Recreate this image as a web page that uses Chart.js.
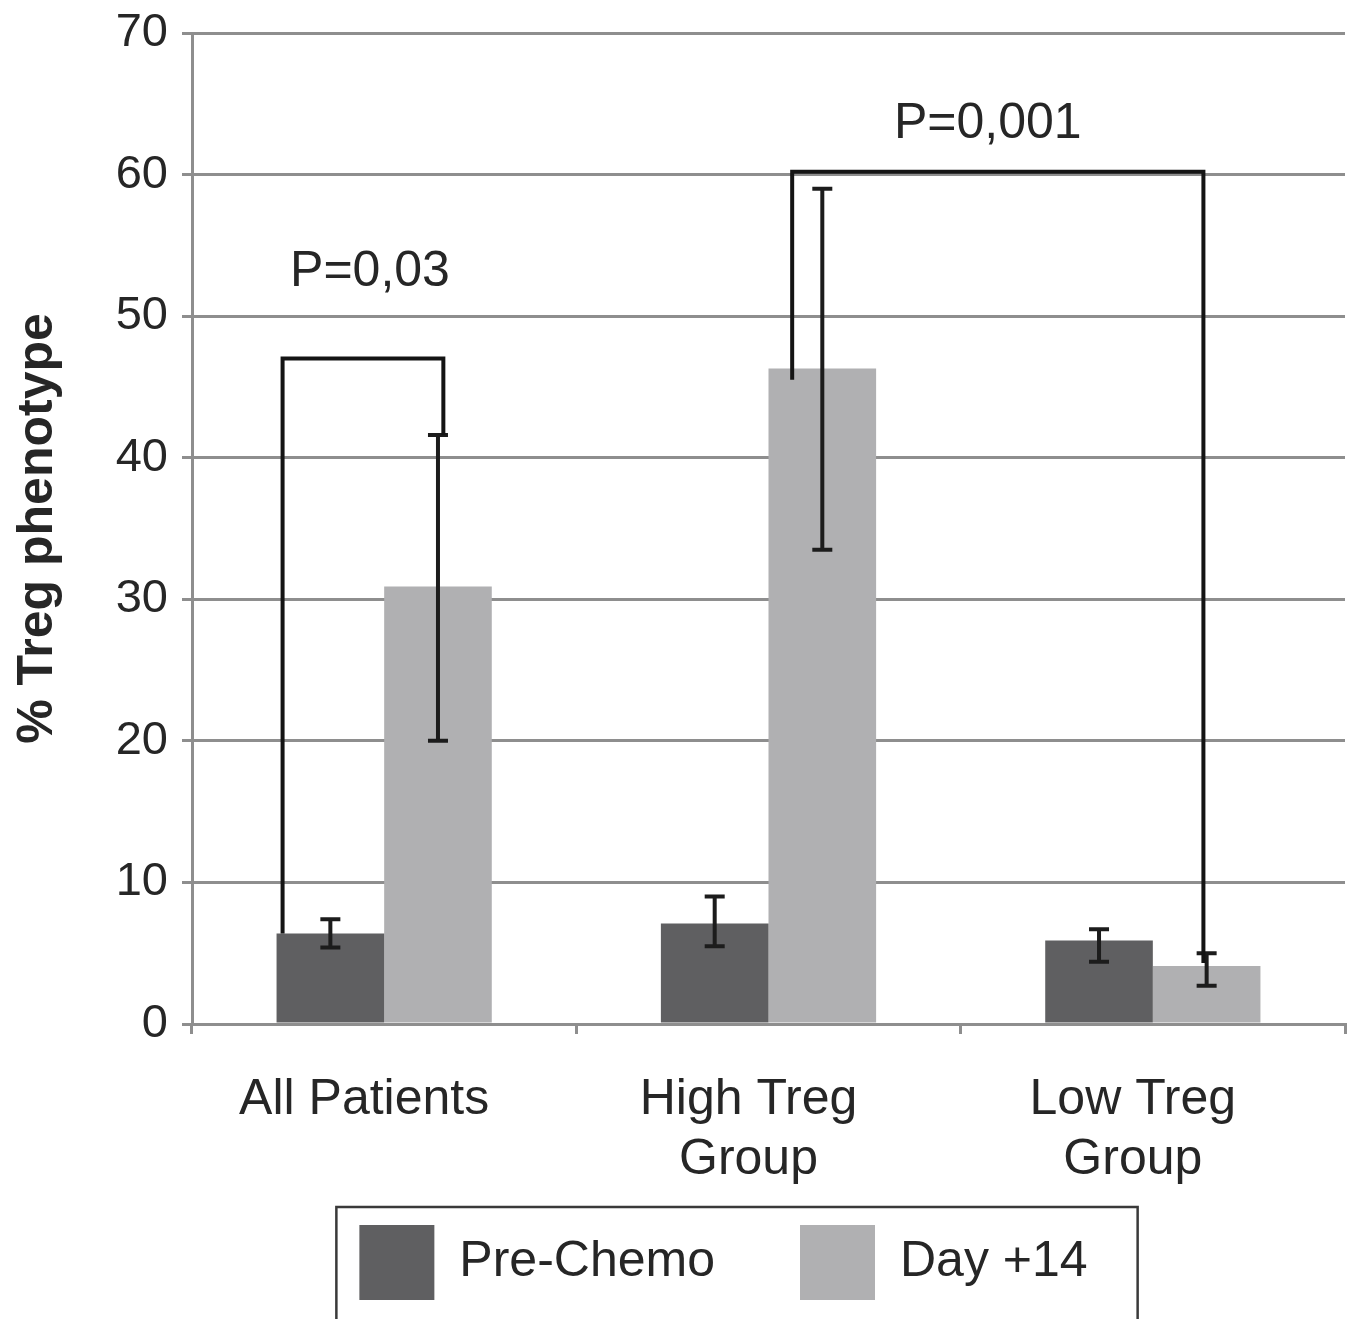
<!DOCTYPE html>
<html><head><meta charset="utf-8">
<script src="https://cdn.jsdelivr.net/npm/chart.js@4/dist/chart.umd.min.js"></script>
<style>html,body{margin:0;padding:0;background:#fff}#wrap{width:1355px;height:1319px;position:relative}</style>
</head><body><div id="wrap"><canvas id="c" width="1355" height="1319"></canvas></div>
<script>
// ---- data ----
const categories = [['All Patients'], ['High Treg', 'Group'], ['Low Treg', 'Group']];
const seriesNames = ['Pre-Chemo', 'Day +14'];
const preChemo = [6.4, 7.1, 5.9];
const day14 = [30.9, 46.3, 4.1];
const preChemoErrLow = [5.4, 5.5, 4.4];
const preChemoErrHigh = [7.4, 9.0, 6.7];
const day14ErrLow = [20.0, 33.5, 2.7];
const day14ErrHigh = [41.6, 59.0, 5.0];
const yTicks = [0, 10, 20, 30, 40, 50, 60, 70];
const pLabels = ['P=0,03', 'P=0,001'];
const bracketTop = [47.0, 60.2];
const bracketFrom = [[0, 0], [1, 1]];   // [category, series]
const bracketTo = [[0, 1], [2, 1]];
const bracketFromEnd = [6.4, 45.5];
const bracketToEnd = [41.6, 4.3];

// ---- styles / positions ----
const FONT = '"Liberation Sans", Arial, Helvetica, sans-serif';
const GRID = '#8e8e8e';
const TXT = '#262626';
const bracketStyle = {
  legFrac: [[0.056, 0.55], [0.22, 0.47]],
  labelDx: [7, -10],
  labelAbove: [5.1, 2.4]
};

const errorBars = {
  id: 'errorBars',
  afterDatasetsDraw(chart) {
    const ctx = chart.ctx, y = chart.scales.y;
    const lows = [preChemoErrLow, day14ErrLow], highs = [preChemoErrHigh, day14ErrHigh];
    ctx.save();
    ctx.strokeStyle = '#1c1c1c';
    ctx.lineWidth = 4;
    ctx.lineCap = 'butt';
    for (let d = 0; d < 2; d++) {
      const meta = chart.getDatasetMeta(d);
      meta.data.forEach((bar, j) => {
        const x = bar.x, yl = y.getPixelForValue(lows[d][j]), yh = y.getPixelForValue(highs[d][j]);
        ctx.beginPath();
        ctx.moveTo(x, yl); ctx.lineTo(x, yh);
        ctx.moveTo(x - 10, yl); ctx.lineTo(x + 10, yl);
        ctx.moveTo(x - 10, yh); ctx.lineTo(x + 10, yh);
        ctx.stroke();
      });
    }
    ctx.strokeStyle = '#141414';
    ctx.lineWidth = 4;
    ctx.lineJoin = 'miter';
    for (let b = 0; b < pLabels.length; b++) {
      const fb = chart.getDatasetMeta(bracketFrom[b][1]).data[bracketFrom[b][0]];
      const tb = chart.getDatasetMeta(bracketTo[b][1]).data[bracketTo[b][0]];
      const x1 = fb.x - fb.width / 2 + fb.width * bracketStyle.legFrac[b][0];
      const x2 = tb.x - tb.width / 2 + tb.width * bracketStyle.legFrac[b][1];
      const yt = y.getPixelForValue(bracketTop[b]);
      ctx.beginPath();
      ctx.moveTo(x1, y.getPixelForValue(bracketFromEnd[b]));
      ctx.lineTo(x1, yt);
      ctx.lineTo(x2, yt);
      ctx.lineTo(x2, y.getPixelForValue(bracketToEnd[b]));
      ctx.stroke();
      ctx.fillStyle = TXT;
      ctx.font = '50px ' + FONT;
      ctx.textAlign = 'center';
      ctx.textBaseline = 'alphabetic';
      ctx.fillText(pLabels[b], (x1 + x2) / 2 + bracketStyle.labelDx[b], y.getPixelForValue(bracketTop[b] + bracketStyle.labelAbove[b]));
    }
    ctx.restore();
  }
};

const legendFrame = {
  id: 'legendFrame',
  afterLayout(chart) {
    const lg = chart.legend;
    lg.left += 51; lg.right += 51;
  },
  afterDraw(chart) {
    const lg = chart.legend;
    if (!lg || !lg.lineWidths) return;
    const pad = lg.options.labels.padding;
    const realW = lg.lineWidths[0] - pad;
    const left = (lg.left + lg.right - realW) / 2;
    const right = left + realW;
    const boxTop = lg.top + pad;
    const ctx = chart.ctx;
    ctx.save();
    ctx.strokeStyle = '#3a3a3a';
    ctx.lineWidth = 2.5;
    ctx.strokeRect(left - 23, boxTop - 18, (right - left) + 23 + 50, 200);
    ctx.restore();
  }
};

new Chart(document.getElementById('c'), {
  type: 'bar',
  data: {
    labels: categories,
    datasets: [
      { label: seriesNames[0], data: preChemo, backgroundColor: '#5f5f61' },
      { label: seriesNames[1], data: day14, backgroundColor: '#b0b0b2' }
    ]
  },
  options: {
    responsive: false,
    animation: false,
    devicePixelRatio: 1,
    categoryPercentage: 0.56,
    barPercentage: 1.0,
    layout: { padding: { top: 33, right: 10, left: 0, bottom: 9 } },
    plugins: {
      tooltip: { enabled: false },
      legend: {
        position: 'bottom',
        labels: {
          boxWidth: 75, boxHeight: 75, padding: 85,
          color: TXT,
          font: { family: FONT, size: 50 }
        }
      }
    },
    scales: {
      x: {
        grid: { display: true, drawOnChartArea: false, drawTicks: true, tickLength: 10, color: GRID, lineWidth: 3, offset: true },
        border: { display: true, color: GRID, width: 3 },
        ticks: { color: TXT, font: { family: FONT, size: 50 }, padding: 36, labelOffset: -20, maxRotation: 0, autoSkip: false },
        afterFit(s) { s.height = 116; s.paddingTop = 0; s.paddingBottom = 0; s._computeLabelArea = function () { return undefined; }; }
      },
      y: {
        min: 0, max: 70,
        afterBuildTicks(s) { s.ticks = yTicks.map(v => ({ value: v })); },
        grid: { color: GRID, lineWidth: 3, tickLength: 10, drawTicks: true },
        border: { display: true, color: GRID, width: 3 },
        ticks: { color: TXT, font: { family: FONT, size: 47 }, padding: 14 },
        title: { display: true, text: '% Treg phenotype', color: TXT, font: { family: FONT, size: 50, weight: 'bold' }, padding: { top: 8, bottom: 0 } },
        afterFit(s) { s.width = 192; s.paddingTop = 0; s.paddingBottom = 0; }
      }
    }
  },
  plugins: [errorBars, legendFrame]
});
</script></body></html>
